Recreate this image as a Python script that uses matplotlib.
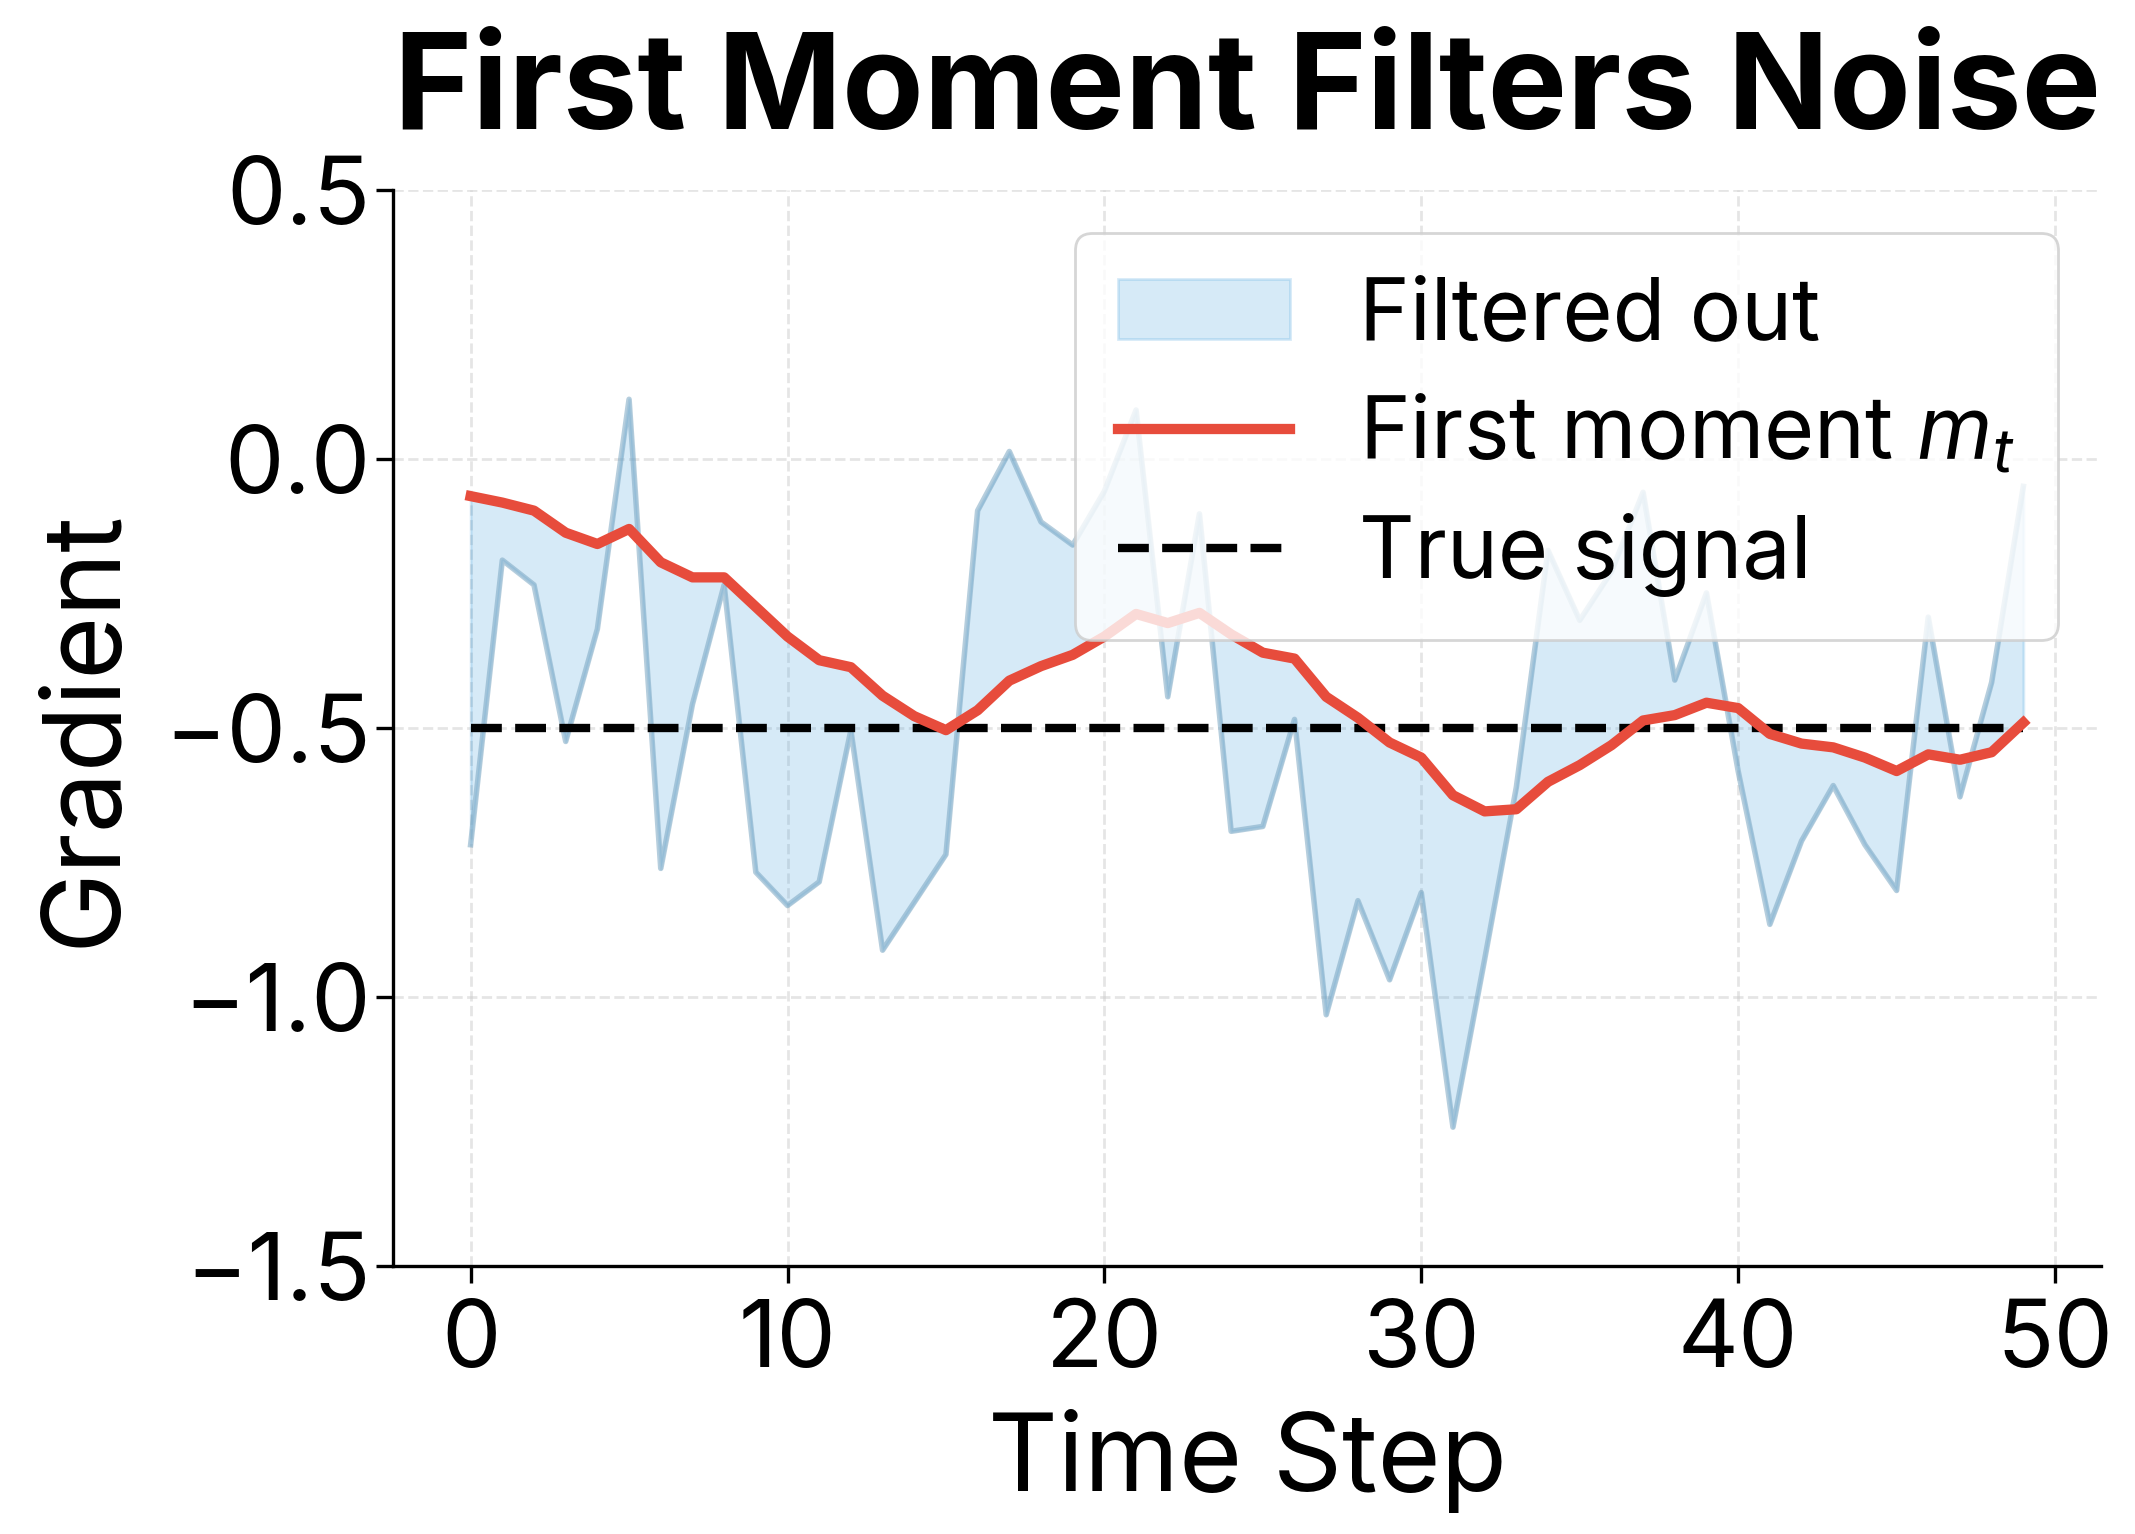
import matplotlib
matplotlib.use("Agg")
import matplotlib.pyplot as plt
import numpy as np

plt.rcParams['font.family'] = ['Inter', 'DejaVu Sans']
plt.rcParams['mathtext.fontset'] = 'custom'
plt.rcParams['mathtext.it'] = 'Inter:italic'
plt.rcParams['mathtext.rm'] = 'Inter'
plt.rcParams['axes.unicode_minus'] = True

steps = list(range(50))
noisy_grad = [-0.717, -0.188, -0.234, -0.525, -0.316, 0.111, -0.761, -0.456, -0.234, -0.768,
              -0.830, -0.786, -0.504, -0.913, -0.824, -0.735, -0.096, 0.014, -0.117, -0.160,
              -0.060, 0.091, -0.442, -0.102, -0.692, -0.683, -0.484, -1.033, -0.821, -0.968,
              -0.806, -1.242, -0.930, -0.610, -0.170, -0.300, -0.210, -0.062, -0.411, -0.249,
              -0.580, -0.865, -0.710, -0.607, -0.717, -0.802, -0.294, -0.628, -0.415, -0.051]
first_moment = [-0.069, -0.081, -0.096, -0.137, -0.158, -0.130, -0.192, -0.220, -0.220, -0.275,
                -0.330, -0.374, -0.387, -0.440, -0.478, -0.504, -0.467, -0.412, -0.385, -0.364,
                -0.330, -0.288, -0.305, -0.286, -0.326, -0.360, -0.371, -0.442, -0.481, -0.527,
                -0.555, -0.625, -0.655, -0.651, -0.600, -0.569, -0.532, -0.486, -0.476, -0.453,
                -0.463, -0.511, -0.529, -0.536, -0.555, -0.580, -0.549, -0.559, -0.545, -0.490]
true_signal = -0.5
yticks = [0.5, 0.0, -0.5, -1.0, -1.5]
xticks = [0, 10, 20, 30, 40, 50]

fig = plt.figure(figsize=(10.675, 7.67), dpi=200)
ax = fig.add_axes([393/2135, 1 - 1266/1534, (2101-393)/2135, (1266-190)/1534])

ax.fill_between(steps, noisy_grad, first_moment, color='#3498db', alpha=0.2,
                label='Filtered out', zorder=2)
ax.plot(steps, noisy_grad, color='#7aa6c2', alpha=0.55, lw=2.0, zorder=2.5)
ax.plot(steps, first_moment, color='#e74c3c', lw=3.7, label=r'First moment $m_t$', zorder=4)
ax.plot([steps[0], steps[-1]], [true_signal, true_signal], color='black', ls='--', lw=3.0,
        label='True signal', zorder=3)

ax.set_ylim(-1.5, 0.5)
ax.set_yticks(yticks)
ax.set_xticks(xticks)
ax.tick_params(labelsize=34, length=6, width=1.2)
ax.tick_params(axis='y', pad=2)
ax.tick_params(axis='x', pad=6)
ax.grid(True, ls='--', color='#cccccc', alpha=0.5, lw=1.0)
ax.set_axisbelow(True)
for s in ['top', 'right']:
    ax.spines[s].set_visible(False)
for s in ['left', 'bottom']:
    ax.spines[s].set_linewidth(1.2)

ax.set_xlabel('Time Step', fontsize=39, labelpad=8)
ax.set_ylabel('Gradient', fontsize=39, labelpad=10)
ax.set_title('First Moment Filters Noise', fontsize=48, fontweight='bold', pad=22)

leg = ax.legend(loc='upper right', fontsize=31, frameon=True, framealpha=0.8,
                borderpad=0.5, handlelength=2.0, labelspacing=0.42, handletextpad=0.8)
leg.get_frame().set_edgecolor('#cccccc')

fig.savefig('out.png', dpi=200)
